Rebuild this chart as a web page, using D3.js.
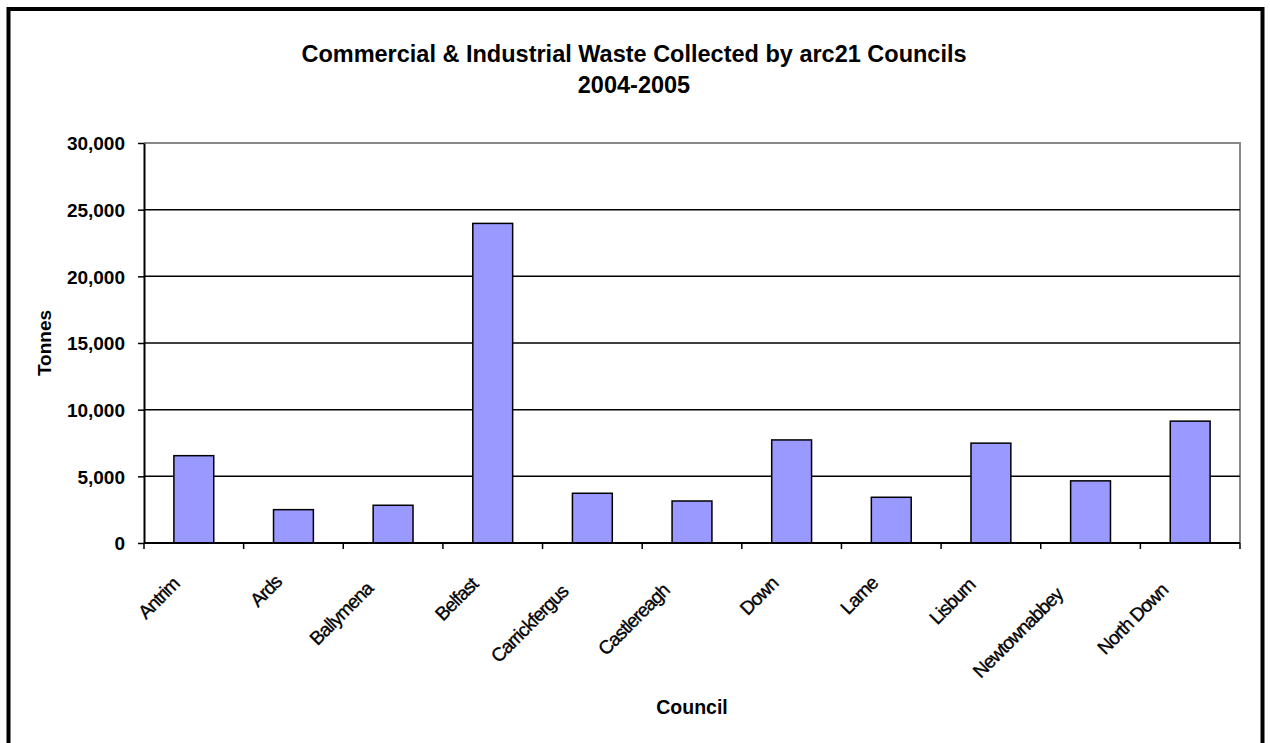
<!DOCTYPE html>
<html>
<head>
<meta charset="utf-8">
<script src="https://cdn.jsdelivr.net/npm/d3@7/dist/d3.min.js"></script>
<style>
  html, body { margin: 0; padding: 0; background: #fff; }
  svg { display: block; font-family: "Liberation Sans", Arial, sans-serif; }
</style>
</head>
<body>
<svg id="chart" width="1270" height="743"></svg>
<script>
// Councils and tonnage collected, 2004-2005
const councils = ["Antrim", "Ards", "Ballymena", "Belfast", "Carrickfergus", "Castlereagh",
                  "Down", "Larne", "Lisburn", "Newtownabbey", "North Down"];
const tonnes = [6550, 2500, 2830, 23970, 3730, 3150, 7730, 3430, 7490, 4660, 9140];
const yTicks = [0, 5000, 10000, 15000, 20000, 25000, 30000];
const titleLines = ["Commercial & Industrial Waste Collected by arc21 Councils", "2004-2005"];

const svg = d3.select("#chart");
const plot = { left: 144, right: 1240, top: 143, bottom: 543 };

// Outer frame
svg.append("rect")
  .attr("x", 8.5).attr("y", 9).attr("width", 1254).attr("height", 740)
  .attr("fill", "#fff").attr("stroke", "#000").attr("stroke-width", 4);

const x = d3.scaleBand().domain(councils)
  .range([plot.left, plot.right]).paddingInner(0.6).paddingOuter(0.3);
const step = (plot.right - plot.left) / councils.length;
const y = d3.scaleLinear().domain([0, 30000]).range([plot.bottom, plot.top]);

// Plot area border (top/right grey)
svg.append("path")
  .attr("d", `M${plot.left},${plot.top}H${plot.right}V${plot.bottom}`)
  .attr("fill", "none").attr("stroke", "#888").attr("stroke-width", 2);

// Horizontal gridlines
svg.append("g").selectAll("line")
  .data(yTicks.filter(d => d > 0 && d < 30000))
  .join("line")
  .attr("x1", plot.left).attr("x2", plot.right)
  .attr("y1", d => y(d)).attr("y2", d => y(d))
  .attr("stroke", "#000").attr("stroke-width", 1.5);

// Bars
svg.append("g").selectAll("rect")
  .data(councils)
  .join("rect")
  .attr("x", d => x(d))
  .attr("y", (d, i) => y(tonnes[i]))
  .attr("width", x.bandwidth())
  .attr("height", (d, i) => y(0) - y(tonnes[i]))
  .attr("fill", "#9999FF").attr("stroke", "#000").attr("stroke-width", 1.5);

// Y axis
const yAxis = d3.axisLeft(y).tickValues(yTicks).tickSize(6).tickSizeOuter(0)
  .tickFormat(d3.format(","));
const gy = svg.append("g").attr("transform", `translate(${plot.left},0)`).call(yAxis);
gy.attr("font-size", null).attr("font-family", null);
gy.select(".domain").attr("stroke", "#000").attr("stroke-width", 2);
gy.selectAll(".tick line").attr("stroke", "#000").attr("stroke-width", 1.5);
gy.selectAll(".tick text")
  .attr("x", -19).attr("dy", "0.36em")
  .attr("font-size", 19).attr("font-weight", "bold").attr("fill", "#000");

// X axis: ticks at category boundaries
const boundaries = d3.range(councils.length + 1).map(i => plot.left + i * step);
svg.append("line")
  .attr("x1", plot.left).attr("x2", plot.right)
  .attr("y1", plot.bottom).attr("y2", plot.bottom)
  .attr("stroke", "#000").attr("stroke-width", 2);
svg.append("g").selectAll("line")
  .data(boundaries)
  .join("line")
  .attr("x1", d => d).attr("x2", d => d)
  .attr("y1", plot.bottom).attr("y2", plot.bottom + 6)
  .attr("stroke", "#000").attr("stroke-width", 1.5);

// Category labels, rotated -45deg; longer labels sit slightly further down-left
svg.append("g").selectAll("text")
  .data(councils)
  .join("text")
  .attr("text-anchor", "end")
  .attr("font-size", 19)
  .attr("letter-spacing", -1)
  .attr("fill", "#000")
  .attr("stroke", "#000").attr("stroke-width", 0.35)
  .text(d => d)
  .each(function (d) {
    const L = this.getComputedTextLength();
    const cx = x(d) + x.bandwidth() / 2 - 4 - 0.19 * L;
    const cy = plot.bottom + 35 + 0.15 * L;
    d3.select(this).attr("transform", `translate(${cx},${cy}) rotate(-45)`);
  });

// Title
svg.append("text")
  .attr("text-anchor", "middle")
  .attr("font-size", 23.5).attr("font-weight", "bold")
  .selectAll("tspan").data(titleLines).join("tspan")
  .attr("x", 634).attr("y", (d, i) => 62 + i * 31)
  .text(d => d);

// Axis titles
svg.append("text")
  .attr("transform", `translate(51,343) rotate(-90)`)
  .attr("text-anchor", "middle")
  .attr("font-size", 19).attr("font-weight", "bold")
  .text("Tonnes");
svg.append("text")
  .attr("x", 692).attr("y", 714)
  .attr("text-anchor", "middle")
  .attr("font-size", 19.5).attr("font-weight", "bold")
  .text("Council");
</script>
</body>
</html>
